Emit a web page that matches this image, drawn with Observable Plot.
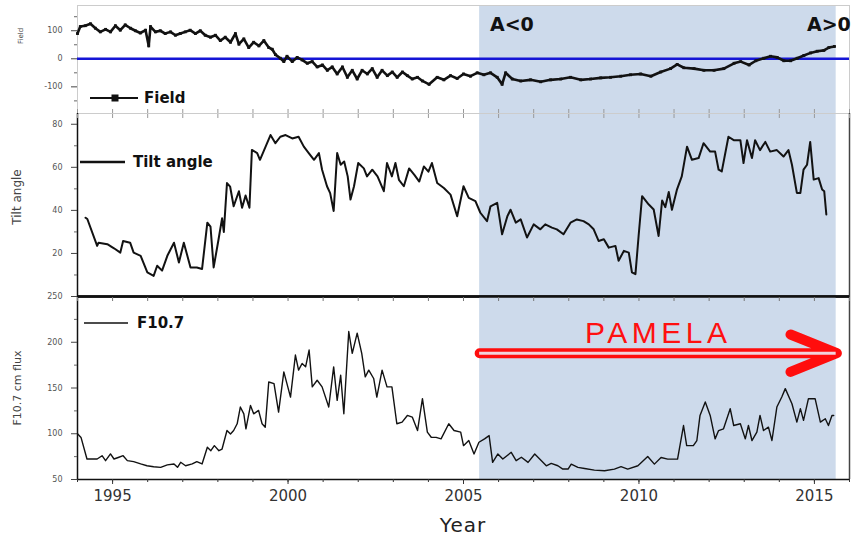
<!DOCTYPE html>
<html><head><meta charset="utf-8">
<script src="https://cdn.jsdelivr.net/npm/d3@7"></script>
<script src="https://cdn.jsdelivr.net/npm/@observablehq/plot@0.6"></script>
<style>
body{margin:0;background:#fff;}
#wrap{position:relative;width:856px;height:537px;overflow:hidden;background:#fff;font-family:"DejaVu Sans",sans-serif;}
.panel{position:absolute;left:0;}
.ann{position:absolute;white-space:nowrap;line-height:1;}
.rot{position:absolute;white-space:nowrap;line-height:1;transform:translate(-50%,-50%) rotate(-90deg);color:#444;}
.leg{position:absolute;display:flex;align-items:center;white-space:nowrap;font-weight:bold;font-size:15px;color:#111;line-height:1;}
</style></head><body><div id="wrap"></div>
<script>
// ---------- data ----------
const xDomain = [1994, 2016];
const yearTicks = [1995, 2000, 2005, 2010, 2015];
const minorYears = d3.range(1994, 2017);
const pamelaStart = 2005.46, pamelaEnd = 2015.62, pamelaArrowEnd = 2015.64, pamelaLevel = 188;

const fieldTicks = [-100, 0, 100];
const fieldMinor = [-150, -50, 50, 150];
const tiltTicks = [20, 40, 60, 80];
const tiltMinor = [10, 30, 50, 70];
const fluxTicks = [50, 100, 150, 200, 250];
const fluxMinor = [75, 125, 175, 225];

const fieldYears = [1994.0,1994.08,1994.22,1994.37,1994.51,1994.65,1994.8,1994.94,1995.08,1995.22,1995.36,1995.51,1995.65,1995.79,1995.94,1996.03,1996.08,1996.22,1996.36,1996.5,1996.65,1996.79,1996.93,1997.07,1997.21,1997.36,1997.5,1997.64,1997.79,1997.93,1998.07,1998.21,1998.36,1998.5,1998.6,1998.74,1998.88,1999.02,1999.17,1999.31,1999.45,1999.55,1999.64,1999.78,1999.88,1999.97,2000.12,2000.26,2000.4,2000.55,2000.69,2000.83,2000.98,2001.12,2001.26,2001.4,2001.55,2001.69,2001.83,2001.97,2002.11,2002.26,2002.4,2002.54,2002.68,2002.83,2002.97,2003.11,2003.26,2003.4,2003.54,2003.69,2003.83,2004.02,2004.25,2004.44,2004.63,2004.82,2005.0,2005.2,2005.39,2005.58,2005.77,2005.96,2006.1,2006.2,2006.39,2006.63,2006.91,2007.2,2007.48,2007.77,2008.05,2008.34,2008.62,2008.91,2009.19,2009.48,2009.76,2010.05,2010.34,2010.62,2010.9,2011.09,2011.28,2011.57,2011.85,2012.14,2012.42,2012.71,2012.9,2013.14,2013.33,2013.56,2013.75,2013.94,2014.13,2014.32,2014.51,2014.7,2014.89,2015.08,2015.27,2015.41,2015.57];
const fieldValues = [90,115,118,125,109,96,105,96,118,102,121,109,100,92,102,46,115,96,100,90,96,84,90,96,102,90,100,84,77,84,65,77,59,90,52,71,40,59,46,65,40,34,15,2,-10,9,-10,5,-4,-16,-10,-29,-22,-41,-29,-54,-29,-66,-41,-72,-41,-54,-35,-66,-41,-60,-47,-66,-47,-60,-72,-66,-79,-91,-66,-75,-60,-70,-54,-62,-50,-57,-50,-66,-91,-50,-72,-79,-75,-82,-75,-72,-66,-75,-72,-68,-66,-62,-57,-54,-62,-47,-35,-20,-32,-35,-41,-41,-35,-16,-10,-22,-7,2,9,5,-7,-7,2,12,21,27,30,40,44];

const tiltYears = [1994.23,1994.28,1994.56,1994.6,1994.85,1995.04,1995.22,1995.3,1995.5,1995.6,1995.8,1995.99,1996.17,1996.27,1996.41,1996.56,1996.75,1996.89,1997.03,1997.22,1997.4,1997.55,1997.7,1997.79,1997.88,1998.02,1998.12,1998.17,1998.26,1998.35,1998.45,1998.6,1998.69,1998.79,1998.9,1998.97,1999.12,1999.2,1999.3,1999.5,1999.64,1999.78,1999.93,2000.12,2000.3,2000.45,2000.59,2000.74,2000.88,2000.97,2001.11,2001.2,2001.3,2001.4,2001.5,2001.6,2001.7,2001.78,2001.88,2002.0,2002.16,2002.25,2002.4,2002.55,2002.73,2002.82,2002.96,2003.06,2003.16,2003.3,2003.45,2003.6,2003.74,2003.87,2004.0,2004.1,2004.25,2004.44,2004.63,2004.82,2005.0,2005.15,2005.34,2005.48,2005.67,2005.77,2005.96,2006.1,2006.25,2006.34,2006.49,2006.63,2006.81,2007.0,2007.19,2007.33,2007.52,2007.66,2007.85,2008.05,2008.23,2008.42,2008.57,2008.71,2008.85,2009.0,2009.14,2009.33,2009.42,2009.57,2009.71,2009.8,2009.9,2009.99,2010.09,2010.28,2010.42,2010.56,2010.66,2010.75,2010.85,2010.94,2011.08,2011.22,2011.37,2011.51,2011.7,2011.84,2012.03,2012.17,2012.27,2012.36,2012.55,2012.7,2012.89,2012.98,2013.08,2013.22,2013.31,2013.45,2013.6,2013.74,2013.93,2014.12,2014.26,2014.36,2014.5,2014.6,2014.69,2014.79,2014.88,2014.98,2015.12,2015.22,2015.28,2015.34];
const tiltValues = [36.6,36,23.5,25,24.3,22.4,20.4,25.8,25,20.4,18.9,11.2,9.6,14.3,12,18.9,25,15.8,25,13.5,13.5,12.8,34.3,32.5,13.5,26.6,36.3,30,52.7,51,41.9,48.9,41.2,46.9,41.2,68.1,66.6,63.5,67.3,75,71.2,74.2,75,73.4,74.2,69.6,66.6,63.5,66.6,58.9,51.2,48,39.7,66.6,61.2,62.7,55.8,45,51.2,62,59.5,55.8,58.9,55.8,48.9,62,55.8,62,54.2,51.2,59.5,56.5,53.4,60.4,58,62,52.7,50.4,47.3,37.3,51.2,45.8,44.3,38.9,35,41.9,43.5,28.9,37.3,40.3,34.3,35.8,27.4,33.5,31.2,33.5,32,31.2,28.9,34.3,35.8,35,33.5,31.2,25.8,26.6,22.7,23.5,16.6,21.2,20.4,11.2,10.4,28.1,46.6,42.7,40.4,28.1,44.6,41.5,48.5,40.3,49.5,55.8,69.6,63.5,64.3,71.2,67.3,67.3,58.9,58.1,74.2,72.6,72.6,62,72.6,64.3,72.6,68,71.8,67.3,68,65,68,61.2,48.1,48.1,58.9,61.2,71.8,54.3,55,49.7,48.9,38.1];

const fluxYears = [1994.0,1994.1,1994.27,1994.56,1994.7,1994.8,1994.94,1995.04,1995.18,1995.3,1995.42,1995.6,1995.8,1995.98,1996.17,1996.37,1996.56,1996.75,1996.85,1996.94,1997.08,1997.27,1997.4,1997.55,1997.7,1997.8,1997.9,1998.03,1998.12,1998.26,1998.36,1998.45,1998.55,1998.64,1998.74,1998.8,1998.93,1999.02,1999.16,1999.26,1999.35,1999.45,1999.6,1999.73,1999.88,2000.07,2000.21,2000.3,2000.4,2000.5,2000.6,2000.69,2000.83,2000.97,2001.16,2001.3,2001.4,2001.5,2001.59,2001.73,2001.83,2001.97,2002.1,2002.2,2002.3,2002.44,2002.53,2002.68,2002.82,2002.96,2003.1,2003.25,2003.4,2003.54,2003.69,2003.83,2003.97,2004.08,2004.22,2004.36,2004.58,2004.73,2004.92,2005.0,2005.15,2005.3,2005.44,2005.6,2005.73,2005.83,2005.98,2006.12,2006.36,2006.5,2006.65,2006.84,2007.03,2007.22,2007.36,2007.5,2007.69,2007.83,2007.98,2008.07,2008.26,2008.45,2008.73,2009.02,2009.3,2009.49,2009.68,2009.97,2010.25,2010.44,2010.63,2010.82,2011.1,2011.27,2011.36,2011.55,2011.65,2011.74,2011.89,2012.03,2012.17,2012.27,2012.41,2012.6,2012.7,2012.89,2013.03,2013.12,2013.22,2013.36,2013.45,2013.55,2013.69,2013.79,2013.93,2014.07,2014.17,2014.36,2014.5,2014.6,2014.69,2014.83,2015.02,2015.17,2015.31,2015.4,2015.5,2015.55];
const fluxValues = [100,96,72.4,72.4,76,70.6,78,72.4,74.3,76,70.6,69.5,67,65,64,63.3,66,67,63.3,68.8,65,67,69.5,67,85.2,81.5,87,81.5,83.3,103.5,99.8,103.5,110.9,129.2,121.8,105.4,131,121.8,125.5,110.9,107.2,156.6,154.8,123.7,167.6,140.1,186,169.5,176.8,173.1,191.5,151.2,158.5,151.2,129.2,173.1,136.5,164,121.8,211.7,187.9,209.9,187.9,162.2,169.5,160.4,140.1,169.5,151.2,151.2,110.9,112.7,120,118.2,103.5,138.3,101.7,96.2,96,94.4,110.9,103.5,101.7,87,92.6,77.9,90.7,94.4,98,68.7,77.9,72.4,79.7,70.6,74.3,68.7,77.9,70.6,65,67.6,65,61.4,61.4,66.8,63.2,62,60.3,59.6,61.4,64,61.4,65,75.2,66.8,74.1,72.3,72.3,109,87,87,92.6,120,134.7,120,94.4,103.5,105.4,127.4,109,110.9,94.4,109,92.6,101.7,120,103.5,107.2,92.6,129.2,140.1,149.3,132.8,112.7,127.4,114.6,138.3,138.3,112.7,116.4,109,120,120];

// ---------- build ----------
const rows = (xs, ys) => xs.map((x, i) => ({year: x, value: ys[i]}));
const field = rows(fieldYears, fieldValues);
const tilt = rows(tiltYears, tiltValues);
const flux = rows(fluxYears, fluxValues);
const pamela = [{start: pamelaStart, end: pamelaEnd, arrowEnd: pamelaArrowEnd, level: pamelaLevel}];

const W = 856, ML = 77, MR = 7;
const SHADE = "#cddaeb";
const INK = "#121212";
const base = {width: W, marginLeft: ML, marginRight: MR, x: {domain: xDomain},
  style: {fontFamily: '"DejaVu Sans", sans-serif', background: "transparent", overflow: "visible"}};
const blank = () => "";
const num = d => String(d);
const yAxes = (major, minor) => [
  Plot.axisY({ticks: major, tickSize: 6, tickPadding: 9, fontSize: 8, fill: "#555", stroke: "#444", tickFormat: num, label: null}),
  Plot.axisY({ticks: minor, tickSize: 3, tickFormat: blank, stroke: "#666", label: null})
];
const shade = Plot.rect(pamela, {x1: "start", x2: "end", fill: SHADE});

const topPlot = Plot.plot({
  ...base, height: 113, marginTop: 5, marginBottom: 0,
  y: {domain: [-195, 190]},
  marks: [
    shade,
    Plot.frame({stroke: "#cccccc"}),
    Plot.axisX({anchor: "bottom", ticks: minorYears, tickSize: -4, tickFormat: blank, stroke: "#999", label: null}),
    ...yAxes(fieldTicks, fieldMinor),
    Plot.ruleY([0], {stroke: "#1515d6", strokeWidth: 2.5}),
    Plot.line(field, {x: "year", y: "value", stroke: INK, strokeWidth: 2.6}),
    Plot.dot(field, {x: "year", y: "value", symbol: "square", r: 1.6, fill: INK, stroke: null})
  ]
});

const midPlot = Plot.plot({
  ...base, height: 183, marginTop: 0, marginBottom: 0,
  y: {domain: [0, 85]},
  marks: [
    shade,
    Plot.frame({stroke: "#cccccc"}),
    Plot.ruleX([xDomain[0]], {stroke: "#111", strokeWidth: 1.5}),
    Plot.ruleX([xDomain[1]], {stroke: "#444", strokeWidth: 1.5}),
    Plot.ruleY([0], {stroke: "#111", strokeWidth: 2.5}),
    Plot.axisX({anchor: "top", ticks: minorYears, tickSize: -4, tickFormat: blank, stroke: "#999", label: null}),
    ...yAxes(tiltTicks, tiltMinor),
    Plot.line(tilt, {x: "year", y: "value", stroke: INK, strokeWidth: 2})
  ]
});

const botPlot = Plot.plot({
  ...base, height: 241, marginTop: 0, marginBottom: 58,
  y: {domain: [50, 250]},
  marks: [
    shade,
    Plot.ruleX([xDomain[0]], {stroke: "#111", strokeWidth: 1.5}),
    Plot.ruleX([xDomain[1]], {stroke: "#444", strokeWidth: 1.5}),
    Plot.ruleY([250], {stroke: "#111", strokeWidth: 2.5}),
    Plot.ruleY([50], {stroke: "#111", strokeWidth: 1.5}),
    Plot.axisX({anchor: "top", ticks: minorYears, tickSize: -4, tickFormat: blank, stroke: "#777", label: null}),
    Plot.axisX({anchor: "bottom", ticks: minorYears, tickSize: 3, tickFormat: blank, stroke: "#333", label: null}),
    Plot.axisX({anchor: "bottom", ticks: yearTicks, tickSize: 5, tickPadding: 6, fontSize: 15, fill: "#333", stroke: "#333", tickFormat: num, label: null}),
    ...yAxes(fluxTicks, fluxMinor),
    Plot.line(flux, {x: "year", y: "value", stroke: INK, strokeWidth: 1.4}),
    Plot.arrow(pamela, {x1: "start", x2: "arrowEnd", y1: "level", y2: "level", stroke: "#ff0d0d", strokeWidth: 10, headAngle: 44, headLength: 7.5, strokeLinecap: "round", strokeLinejoin: "round"}),
    Plot.ruleY(pamela, {y: "level", x1: "start", x2: "end", stroke: "#f1d3dc", strokeWidth: 3})
  ]
});

const wrap = document.getElementById("wrap");
[[topPlot, 0], [midPlot, 113], [botPlot, 296]].forEach(([p, t]) => {
  p.classList.add("panel"); p.style.top = t + "px"; wrap.appendChild(p);
});

function add(html) { wrap.insertAdjacentHTML("beforeend", html); }
// axis titles
add(`<div class="rot" style="left:21px;top:36px;font-size:7px">Field</div>`);
add(`<div class="rot" style="left:17px;top:197px;font-size:12px">Tilt angle</div>`);
add(`<div class="rot" style="left:17px;top:388px;font-size:11px">F10.7 cm flux</div>`);
add(`<div class="ann" style="left:463px;top:525px;transform:translate(-50%,-50%);font-size:20px;color:#222;letter-spacing:1px">Year</div>`);
// legends
add(`<div class="leg" style="left:90px;top:90px;height:16px"><svg width="50" height="16" style="margin-right:4px"><line x1="0" y1="8" x2="48" y2="8" stroke="#111" stroke-width="2"/><rect x="21.5" y="4.5" width="7" height="7" fill="#111"/></svg>Field</div>`);
add(`<div class="leg" style="left:80px;top:154px;height:16px"><svg width="46" height="16" style="margin-right:7px"><line x1="0" y1="8" x2="45" y2="8" stroke="#111" stroke-width="2.5"/></svg>Tilt angle</div>`);
add(`<div class="leg" style="left:84px;top:315px;height:16px"><svg width="46" height="16" style="margin-right:7px"><line x1="0" y1="8" x2="44" y2="8" stroke="#111" stroke-width="1.5"/></svg>F10.7</div>`);
// annotations
add(`<div class="ann" style="left:490px;top:15px;font-size:19px;font-weight:bold;color:#111">A&lt;0</div>`);
add(`<div class="ann" style="left:807px;top:15px;font-size:19px;font-weight:bold;color:#111">A&gt;0</div>`);
add(`<div class="ann" style="left:585px;top:318px;font-family:'Liberation Sans',sans-serif;font-size:30px;letter-spacing:4.5px;color:#ff1010">PAMELA</div>`);
</script></body></html>
